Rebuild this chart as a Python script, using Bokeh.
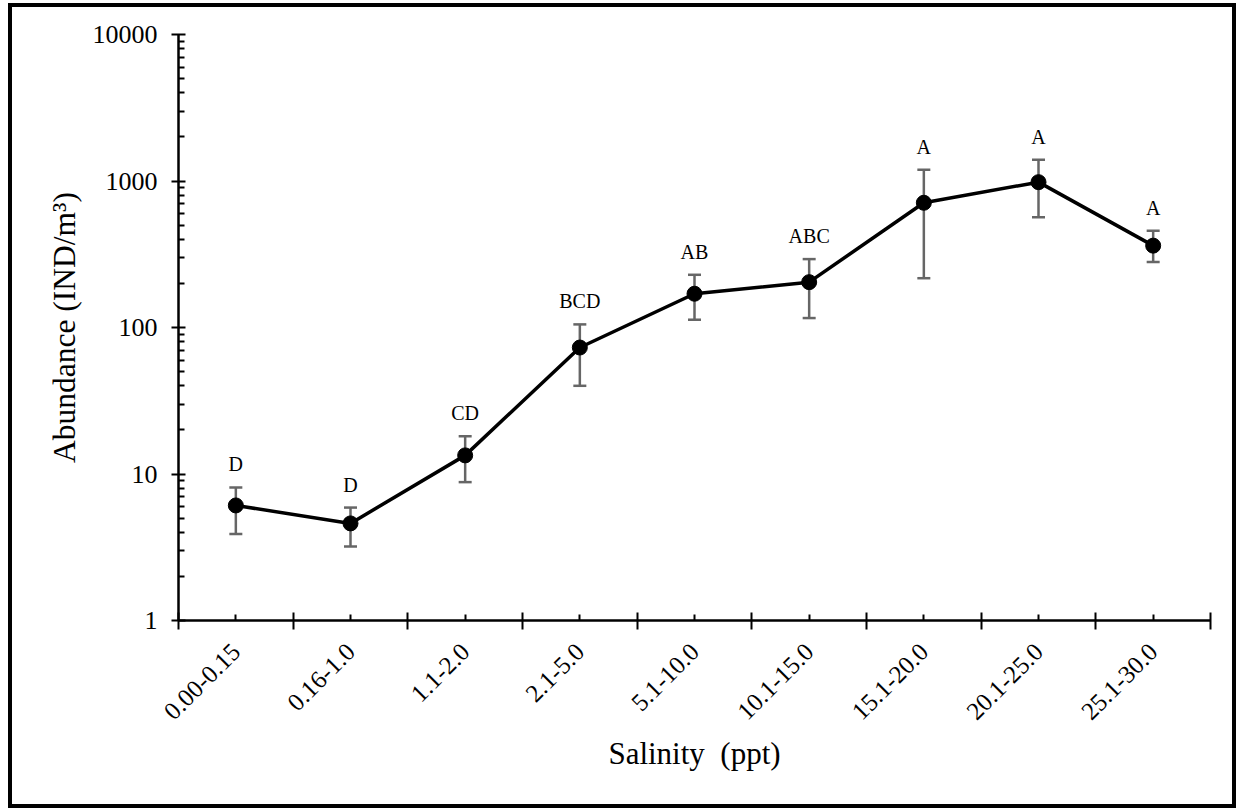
import numpy as np
from bokeh.plotting import figure
from bokeh.models import (ColumnDataSource, Range1d, FixedTicker, CustomJSTickFormatter,
                          Whisker, TeeHead)
from bokeh.core.properties import value
from bokeh.embed import file_html
from bokeh.resources import INLINE

# ---- data ----
categories = ["0.00-0.15", "0.16-1.0", "1.1-2.0", "2.1-5.0", "5.1-10.0",
              "10.1-15.0", "15.1-20.0", "20.1-25.0", "25.1-30.0"]
abundance = [6.1, 4.6, 13.4, 73, 170, 204, 710, 982, 362]
err_upper = [8.1, 5.9, 18.1, 105, 229, 293, 1193, 1396, 457]
err_lower = [3.9, 3.2, 8.8, 40, 113, 116, 217, 566, 280]
letters = ["D", "D", "CD", "BCD", "AB", "ABC", "A", "A", "A"]
y_ticks = [1, 10, 100, 1000, 10000]

FONT = "Liberation Serif"
n = len(categories)
xs = np.arange(n) + 0.5

src = ColumnDataSource(dict(x=xs, y=abundance, upper=err_upper, lower=err_lower,
                            letters=letters))

p = figure(width=1228, height=805, output_backend="svg", toolbar_location=None,
           x_range=Range1d(0, n), y_range=Range1d(1, 10000), y_axis_type="log",
           min_border_left=166, min_border_right=30, min_border_top=27,
           min_border_bottom=192)
p.styles = {"border": "4px solid black", "margin-left": "8px", "margin-top": "3px"}
p.outline_line_color = None
p.xgrid.visible = False
p.ygrid.visible = False
p.background_fill_color = "white"
p.border_fill_color = "white"

# x axis: labels at category centres, long ticks at boundaries
xa = p.xaxis[0]
xa.ticker = FixedTicker(ticks=list(xs), minor_ticks=list(np.arange(n + 1)))
xa.formatter = CustomJSTickFormatter(args=dict(labels=categories),
                                     code="return labels[Math.round(tick - 0.5)];")
xa.major_label_orientation = np.pi / 4
xa.major_tick_in = 6
xa.major_tick_out = 0
xa.minor_tick_in = 8
xa.minor_tick_out = 9
xa.axis_line_width = 2.5
xa.major_tick_line_width = 2
xa.minor_tick_line_width = 2
xa.major_label_text_font = FONT
xa.major_label_text_font_size = "25px"
xa.major_label_text_color = "black"
xa.major_label_standoff = 18
xa.axis_label = "Salinity\u00a0\u00a0(ppt)"
xa.axis_label_text_font = FONT
xa.axis_label_text_font_size = "31px"
xa.axis_label_text_font_style = "normal"
xa.axis_label_text_color = "black"
xa.axis_label_standoff = 6

ya = p.yaxis[0]
ya.ticker = FixedTicker(ticks=y_ticks,
                        minor_ticks=[k * 10 ** d for d in range(4) for k in range(2, 10)])
ya.formatter = CustomJSTickFormatter(code="return tick.toFixed(0);")
ya.major_tick_in = 7
ya.major_tick_out = 7
ya.minor_tick_in = 6
ya.minor_tick_out = 0
ya.axis_line_width = 2.5
ya.major_tick_line_width = 2
ya.minor_tick_line_width = 2
ya.major_label_text_font = FONT
ya.major_label_text_font_size = "26px"
ya.major_label_text_color = "black"
ya.major_label_standoff = 14
ya.axis_label = "Abundance (IND/m³)"
ya.axis_label_text_font = FONT
ya.axis_label_text_font_size = "31.5px"
ya.axis_label_text_font_style = "normal"
ya.axis_label_text_color = "black"
ya.axis_label_standoff = 8

# series
p.line("x", "y", source=src, line_color="black", line_width=3.5)
whisk = Whisker(base="x", upper="upper", lower="lower", source=src,
                line_color="#666666", line_width=2.5,
                upper_head=TeeHead(size=13, line_color="#666666", line_width=2.5),
                lower_head=TeeHead(size=13, line_color="#666666", line_width=2.5))
p.add_layout(whisk)
p.scatter("x", "y", source=src, size=15, fill_color="black", line_color="black")
p.text("x", "upper", text="letters", source=src, text_align="center",
       text_baseline="bottom", y_offset=-12, text_font=value(FONT),
       text_font_size="20px", text_color="black")

open("out.html", "w").write(file_html(p, INLINE))
